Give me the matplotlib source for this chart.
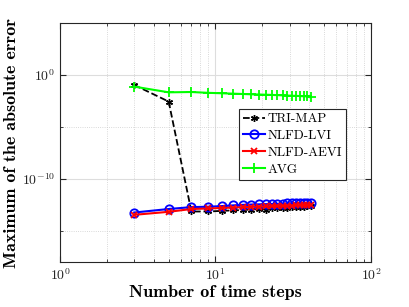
import numpy as np
import matplotlib.pyplot as plt
from matplotlib.ticker import FixedLocator, NullFormatter

plt.rcParams['mathtext.fontset'] = 'cm'
plt.rcParams['font.family'] = 'serif'
plt.rcParams['font.serif'] = ['cmr10']
plt.rcParams['axes.formatter.use_mathtext'] = True

# time steps
steps = [3, 5, 7, 9, 11, 13, 15, 17, 19, 21, 23, 25, 27, 29, 31, 33, 35, 37, 39, 41]

# log10 of the max absolute error
tri_map = [-0.96, -2.56, -13.14, -13.14, -13.08, -13.03, -13.0, -12.95, -12.92, -12.95,
           -12.85, -12.82, -12.8, -12.78, -12.75, -12.72, -12.7, -12.68, -12.65, -12.6]
nlfd_lvi = [-13.24, -12.9, -12.72, -12.68, -12.62, -12.55, -12.5, -12.47, -12.45, -12.43,
            -12.42, -12.4, -12.38, -12.37, -12.36, -12.34, -12.32, -12.31, -12.3, -12.28]
nlfd_aevi = [-13.46, -13.17, -12.9, -12.85, -12.8, -12.76, -12.72, -12.7, -12.67, -12.65,
             -12.63, -12.61, -12.6, -12.58, -12.57, -12.55, -12.54, -12.53, -12.51, -12.5]
avg = [-1.12, -1.67, -1.64, -1.72, -1.76, -1.8, -1.83, -1.86, -1.88, -1.9,
       -1.92, -1.94, -1.96, -1.98, -2.0, -2.01, -2.03, -2.05, -2.06, -2.08]

fig = plt.figure(figsize=(4.09, 3.07), dpi=100)
ax = fig.add_axes([0.1467, 0.1466, 0.7603, 0.7784])

ax.plot(steps, 10.0**np.array(tri_map), 'k--', marker=(6, 2, 0), ms=5, lw=1.3, label='TRI-MAP')
ax.plot(steps, 10.0**np.array(nlfd_lvi), '-', color='#0000ff', marker='o', mfc='none', ms=6, mew=1.3, lw=1.5, label='NLFD-LVI')
ax.plot(steps, 10.0**np.array(nlfd_aevi), '-', color='#ff0000', marker='x', ms=4, mew=1.3, lw=1.5, label='NLFD-AEVI')
ax.plot(steps, 10.0**np.array(avg), '-', color='#00ff00', marker='+', ms=7, mew=1.3, lw=1.5, label='AVG')

ax.set_xscale('log')
ax.set_yscale('log')
ax.set_xlim(1, 100)
ax.set_ylim(1e-18, 1e5)

ax.yaxis.set_major_locator(FixedLocator([1e-10, 1e0]))
ax.yaxis.set_minor_locator(FixedLocator([1e-15, 1e-5]))
ax.yaxis.set_minor_formatter(NullFormatter())

ax.grid(True, which='major', color='#dddddd', lw=0.8, ls='-')
ax.grid(True, which='minor', color='#cccccc', lw=0.6, ls=':')
ax.tick_params(which='both', direction='in', colors='#262626', labelsize=10, top=True, right=True)
ax.tick_params(which='major', length=4)
ax.tick_params(which='minor', length=2)
for s in ax.spines.values():
    s.set_color('#262626')
    s.set_linewidth(0.8)

ax.set_xlabel('Number of time steps', fontfamily='cmb10', fontsize=13, labelpad=2)
ax.set_ylabel('Maximum of the absolute error', fontfamily='cmb10', fontsize=13, labelpad=2)

leg = ax.legend(loc='upper left', bbox_to_anchor=(0.575, 0.64), fontsize=9.5, fancybox=False,
                framealpha=1, edgecolor='#262626', handlelength=1.7, handletextpad=0.2,
                borderpad=0.3, labelspacing=0.35, borderaxespad=0)
leg.get_frame().set_linewidth(0.8)

fig.savefig('out.png', dpi=100)
